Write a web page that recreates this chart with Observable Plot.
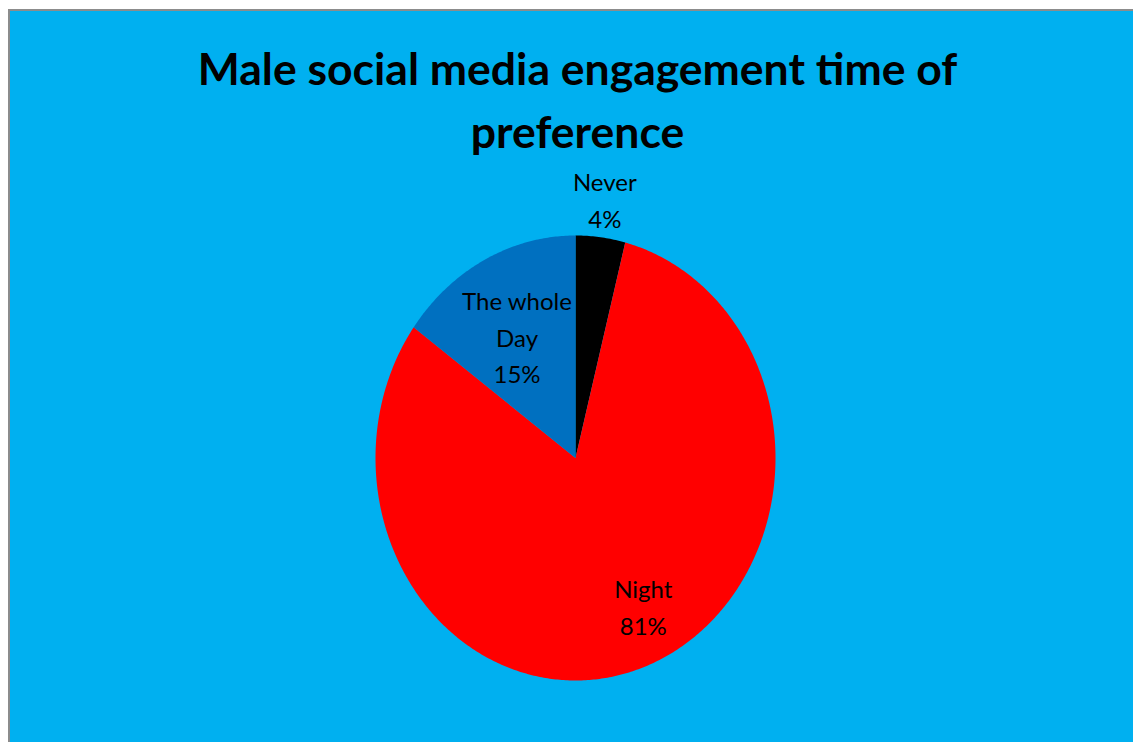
<!DOCTYPE html>
<html>
<head>
<meta charset="utf-8">
<script src="https://cdn.jsdelivr.net/npm/d3@7"></script>
<script src="https://cdn.jsdelivr.net/npm/@observablehq/plot@0.6"></script>
<style>
  html, body { margin: 0; padding: 0; background: #ffffff; width: 1133px; height: 742px; overflow: hidden; }
  #frame {
    position: absolute; left: 8px; top: 9px; width: 1125px; height: 733px;
    background: #00B0F0; border-left: 2px solid #8c8c8c; border-top: 2px solid #8c8c8c;
    box-sizing: border-box;
  }
  #title {
    position: absolute; left: 0; top: 25px; width: 1123px; padding-left: 12px; box-sizing: border-box;
    text-align: center; font-family: Lato, "Open Sans", sans-serif; font-weight: bold;
    font-size: 44.5px; line-height: 63px; color: #000;
  }
  #chart { position: absolute; left: 0; top: 0; }
</style>
</head>
<body>
<div id="frame">
  <div id="title">Male social media engagement time of<br>preference</div>
  <div id="chart"></div>
</div>
<script>
// Data
const categories = ["Never", "Night", "The whole Day"];
const values = [4, 81, 15];
const labelLines = [["Never", "4%"], ["Night", "81%"], ["The whole", "Day", "15%"]];
const colors = ["#000000", "#FF0000", "#0070C0"];

// Build slices via d3.pie (clockwise from 12 o'clock, in data order)
const pie = d3.pie().sort(null).value(d => d.value);
const arcs = pie(categories.map((c, i) => ({category: c, value: values[i]})));

const polygonPoints = [];
arcs.forEach(a => {
  const c = a.data.category;
  polygonPoints.push({category: c, x: 0, y: 0});
  const n = Math.max(4, Math.ceil((a.endAngle - a.startAngle) / 0.01));
  for (let k = 0; k <= n; k++) {
    const t = a.startAngle + (a.endAngle - a.startAngle) * k / n;
    polygonPoints.push({category: c, x: Math.sin(t), y: Math.cos(t)});
  }
  polygonPoints.push({category: c, x: 0, y: 0});
});

// Label placement (radius factor and nudges per label)
const labelRadius = {"Never": 1.17, "Night": 0.72, "The whole Day": 0.6};
const labelNudge = {"Never": [0, 2], "Night": [19, 0], "The whole Day": [-4, 0]};
const lineHeight = 36.5;
const labelRows = [];
arcs.forEach((a, i) => {
  const c = a.data.category;
  const mid = (a.startAngle + a.endAngle) / 2;
  const r = labelRadius[c];
  const lines = labelLines[i];
  lines.forEach((txt, j) => {
    labelRows.push({
      x: Math.sin(mid) * r, y: Math.cos(mid) * r, text: txt,
      dx: labelNudge[c][0], dy: labelNudge[c][1] + (j - (lines.length - 1) / 2) * lineHeight
    });
  });
});

const chart = Plot.plot({
  width: 1123,
  height: 731,
  margin: 0,
  style: {background: "transparent", fontFamily: "Lato, 'Open Sans', sans-serif"},
  x: {domain: [-1, 1], range: [365, 765], axis: null},
  y: {domain: [-1, 1], range: [669, 224], axis: null},
  color: {domain: categories, range: colors},
  marks: [
    Plot.line(polygonPoints, {x: "x", y: "y", z: "category", fill: "category", stroke: "none", curve: "linear"}),
    ...labelRows.map(r => Plot.text([r], {x: "x", y: "y", text: "text", dx: r.dx, dy: r.dy, fontSize: 24, fill: "#000", textAnchor: "middle"}))
  ]
});
document.getElementById("chart").appendChild(chart);
</script>
</body>
</html>
